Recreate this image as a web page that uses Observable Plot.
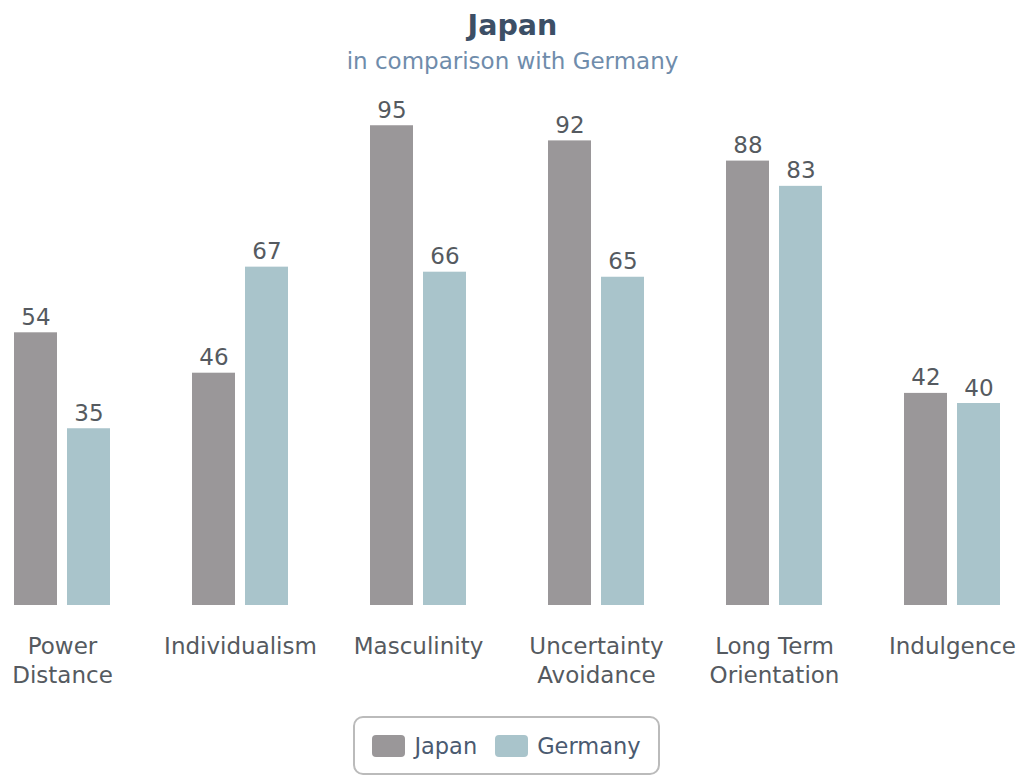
<!DOCTYPE html>
<html>
<head>
<meta charset="utf-8">
<script src="https://cdn.jsdelivr.net/npm/d3@7"></script>
<script src="https://cdn.jsdelivr.net/npm/@observablehq/plot@0.6"></script>
<style>
  body { margin: 0; background: #fff; font-family: "DejaVu Sans", sans-serif; }
  #wrap { width: 1025px; }
  #header { height: 80px; text-align: center; }
  #title { font-size: 28.5px; font-weight: bold; color: #3c4f66; padding-top: 9px; line-height: 34px; }
  #subtitle { font-size: 23px; color: #6f8cab; line-height: 36px; }
  #chart svg { overflow: visible; display: block; }
  #legend { margin-left: 353px; margin-top: 16px; width: 307px; height: 59px;
    border: 2px solid #bbbbbb; border-radius: 10px; box-sizing: border-box;
    display: flex; align-items: center; justify-content: center; gap: 18px; }
  .item { display: flex; align-items: center; font-size: 22.5px; color: #4a5a70; }
  .sw { width: 33px; height: 22px; border-radius: 4px; margin-right: 9px; }
</style>
</head>
<body>
<div id="wrap">
  <div id="header">
    <div id="title"></div>
    <div id="subtitle"></div>
  </div>
  <div id="chart"></div>
  <div id="legend"></div>
</div>
<script>
const titleText = "Japan";
const subtitleText = "in comparison with Germany";
const categories = ["Power Distance", "Individualism", "Masculinity", "Uncertainty Avoidance", "Long Term Orientation", "Indulgence"];
const categoryLabels = ["Power\nDistance", "Individualism", "Masculinity", "Uncertainty\nAvoidance", "Long Term\nOrientation", "Indulgence"];
const series = ["Japan", "Germany"];
const japanValues = [54, 46, 95, 92, 88, 42];
const germanyValues = [35, 67, 66, 65, 83, 40];
const colors = ["#9a9799", "#a9c4cb"];

document.getElementById("title").textContent = titleText;
document.getElementById("subtitle").textContent = subtitleText;

const rows = [];
categories.forEach((c, i) => {
  rows.push({category: c, series: series[0], value: japanValues[i]});
  rows.push({category: c, series: series[1], value: germanyValues[i]});
});
const labelOf = new Map(categories.map((c, i) => [c, categoryLabels[i]]));

const plotEl = Plot.plot({
  width: 1025,
  height: 620,
  marginTop: 20,
  marginBottom: 95,
  marginLeft: 13,
  marginRight: 24,
  style: {fontFamily: "DejaVu Sans, sans-serif", color: "#555a60", background: "transparent"},
  fx: {domain: categories, paddingInner: 0.45, paddingOuter: 0, label: null},
  x: {domain: series, paddingInner: 0.185, paddingOuter: 0, axis: null},
  y: {domain: [0, 100], axis: null},
  color: {domain: series, range: colors},
  marks: [
    Plot.barY(rows, {fx: "category", x: "series", y: "value", fill: "series"}),
    Plot.text(rows, {fx: "category", x: "series", y: "value", text: d => String(d.value),
      lineAnchor: "bottom", dy: -8, fontSize: 23, fill: "#555a60"}),
    Plot.axisFx({anchor: "bottom", tickSize: 0, tickPadding: 28, fontSize: 23,
      lineHeight: 1.27, tickFormat: d => labelOf.get(d), fill: "#555a60", label: null})
  ]
});
document.getElementById("chart").appendChild(plotEl);

const legendBox = document.getElementById("legend");
series.forEach((s, i) => {
  const item = document.createElement("div");
  item.className = "item";
  const sw = document.createElement("div");
  sw.className = "sw";
  sw.style.background = colors[i];
  const t = document.createElement("span");
  t.textContent = s;
  item.appendChild(sw);
  item.appendChild(t);
  legendBox.appendChild(item);
});
</script>
</body>
</html>
